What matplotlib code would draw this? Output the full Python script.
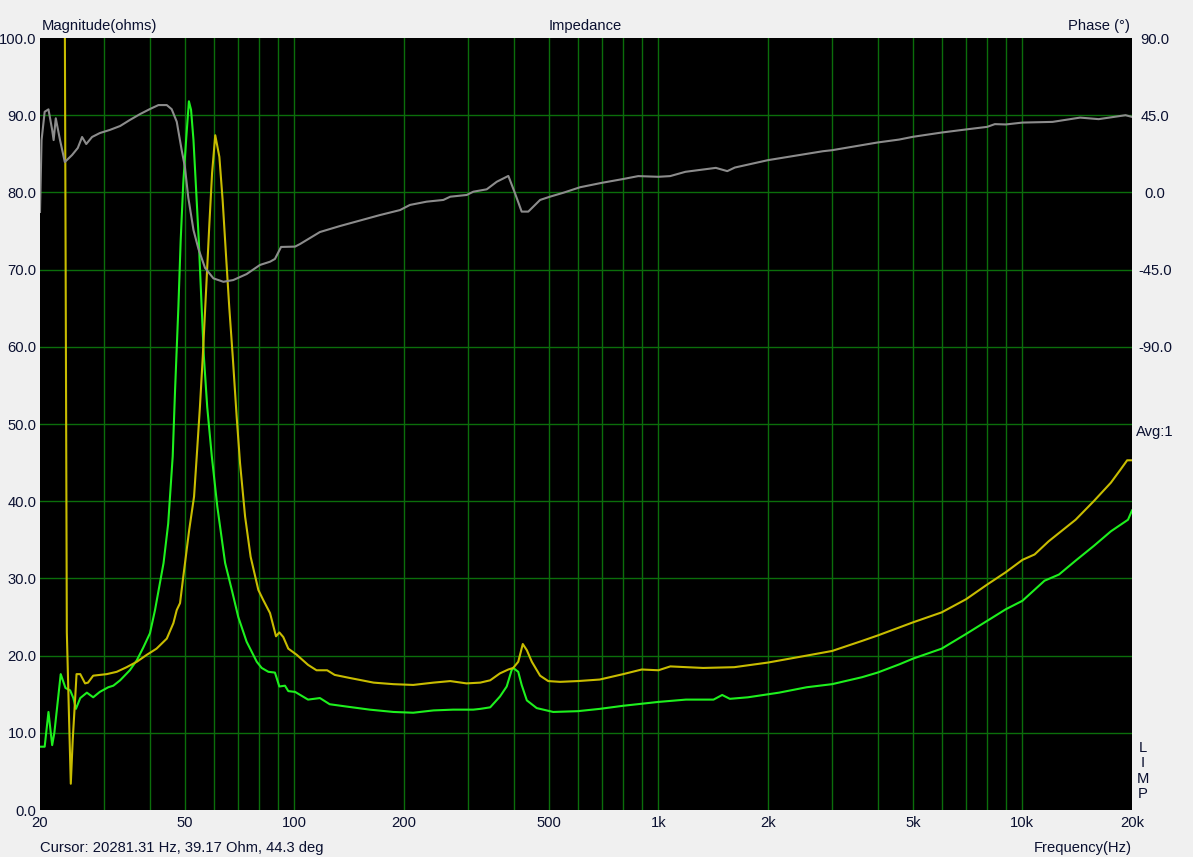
import matplotlib
matplotlib.use("Agg")
import matplotlib.pyplot as plt
from matplotlib.ticker import FixedLocator, NullFormatter

plt.rcParams['font.family'] = ['Liberation Sans', 'DejaVu Sans']

# --- datos ---
# curva verde (magnitud, ohm)
verde_f = [20.0, 20.6, 21.1, 21.6, 21.9, 22.8, 23.5, 24.2, 24.7, 25.1, 25.8, 26.9, 28.0, 29.2,
           30.8, 31.8, 33.2, 35.3, 36.9, 38.4, 40.1, 41.4, 43.7, 45.0, 46.3, 47.0, 48.0, 48.7,
           49.5, 50.4, 51.3, 52.0, 52.8, 53.7, 54.6, 55.6, 56.4, 57.6, 59.3, 61.4, 64.5, 67.3,
           70.1, 73.9, 78.8, 81.3, 84.8, 88.4, 90.9, 94.2, 96.2, 100.4, 109, 117.5, 125, 139,
           161, 187, 212, 241, 273, 310, 324, 345, 367, 383, 395, 399, 412, 421, 435, 463, 514,
           600, 690, 800, 1000, 1190, 1417, 1497, 1571, 1762, 2144, 2554, 3000, 3624, 4000,
           4608, 5000, 6000, 7000, 8000, 9000, 10000, 11500, 12600, 14000, 15700, 17500,
           19500, 20000]
verde_z = [8.2, 8.2, 12.7, 8.4, 10.0, 17.6, 15.8, 15.5, 14.5, 13.1, 14.5, 15.2, 14.6, 15.3,
           15.9, 16.1, 16.8, 18.1, 19.4, 21.0, 22.9, 25.9, 32.0, 37.1, 45.8, 54.4, 65.2, 73.8,
           81.2, 86.8, 91.8, 90.7, 86.8, 80.3, 73.8, 65.2, 58.7, 52.2, 45.8, 39.3, 32.0, 28.5,
           25.0, 21.8, 19.2, 18.4, 17.9, 17.8, 16.0, 16.1, 15.4, 15.3, 14.3, 14.5, 13.7, 13.4,
           13.0, 12.7, 12.6, 12.9, 13.0, 13.0, 13.1, 13.3, 14.7, 16.0, 18.1, 18.4, 17.9, 16.2,
           14.2, 13.2, 12.7, 12.8, 13.1, 13.5, 14.0, 14.3, 14.3, 14.9, 14.4, 14.6, 15.2, 15.9,
           16.3, 17.2, 17.8, 18.9, 19.6, 20.9, 22.8, 24.5, 26.0, 27.1, 29.7, 30.5, 32.3, 34.2,
           36.1, 37.6, 38.8]

# curva amarilla (magnitud, ohm)
amarilla_f = [23.3, 23.7, 24.0, 24.3, 24.6, 25.0, 25.2, 25.8, 26.6, 27.1, 28.0, 30.5, 32.5,
              34.6, 36.9, 39.3, 41.8, 44.6, 46.5, 47.5, 48.5, 49.5, 51.4, 53.0, 53.9, 55.0,
              56.0, 57.2, 58.4, 59.4, 60.6, 62.2, 63.5, 64.9, 66.2, 67.7, 69.4, 70.9, 73.2,
              75.8, 79.6, 82.1, 85.7, 89.0, 90.9, 93.2, 96.2, 101.5, 109, 115, 123, 129, 142,
              165, 187, 212, 241, 268, 297, 324, 345, 367, 387, 399, 412, 424, 435, 449, 473,
              498, 537, 600, 690, 800, 900, 1000, 1078, 1327, 1616, 2000, 2554, 3000, 3624,
              4000, 5000, 6000, 7000, 8000, 9000, 10000, 10800, 11800, 14000, 15700, 17500,
              18600, 19400, 20000]
amarilla_z = [130, 23.0, 13.0, 3.4, 9.1, 14.7, 17.6, 17.6, 16.4, 16.5, 17.4, 17.6, 17.9,
              18.5, 19.2, 20.1, 20.9, 22.2, 24.2, 25.9, 26.8, 30.2, 36.3, 40.6, 45.8, 52.2,
              58.7, 67.4, 76.0, 82.5, 87.4, 84.6, 79.0, 71.7, 65.2, 58.7, 50.9, 44.9, 38.0,
              32.8, 28.5, 27.2, 25.5, 22.5, 23.0, 22.4, 20.9, 20.1, 18.8, 18.1, 18.1, 17.5, 17.1,
              16.5, 16.3, 16.2, 16.5, 16.7, 16.4, 16.5, 16.8, 17.7, 18.2, 18.4, 19.2, 21.5, 20.7,
              19.2, 17.4, 16.7, 16.6, 16.7, 16.9, 17.6, 18.2, 18.1, 18.6, 18.4, 18.5, 19.1, 20.0,
              20.6, 21.9, 22.6, 24.3, 25.6, 27.3, 29.2, 30.8, 32.4, 33.1, 34.8, 37.6, 40.0,
              42.4, 44.1, 45.3, 45.3]

# curva gris (fase, grados)
fase_f = [20.0, 20.2, 20.6, 21.1, 21.6, 21.8, 22.1, 22.7, 23.4, 24.5, 25.4, 26.1, 26.8, 27.8,
          29.2, 31.1, 33.2, 35.3, 37.7, 40.1, 42.3, 44.6, 46.0, 47.5, 49.0, 50.0, 51.1, 52.8,
          54.5, 56.8, 59.9, 63.8, 67.9, 73.9, 80.4, 85.7, 88.4, 91.9, 100.4, 103.6, 117.5,
          133.4, 171.8, 195, 207.7, 230.8, 256.5, 268, 297.4, 310, 337.5, 359.6, 387, 403.6,
          421, 439, 473, 503.6, 548, 609, 700, 800, 880, 1000, 1077, 1186, 1438, 1546, 1622,
          2000, 2830, 3000, 4000, 4585, 5000, 6000, 7000, 8000, 8400, 9000, 10000, 12100,
          14400, 16200, 19200, 20000]
fase_g = [-11.4, 30.5, 47.0, 48.4, 36.4, 30.5, 43.2, 30.5, 17.7, 21.8, 25.9, 32.3, 28.2, 32.3,
          34.6, 36.4, 38.7, 42.2, 45.7, 48.6, 50.9, 50.9, 48.5, 41.2, 24.7, 15.0, -3.0, -21.9,
          -33.0, -44.0, -50.1, -52.1, -51.1, -47.6, -42.3, -40.4, -38.8, -31.8, -31.6, -30.1,
          -23.1, -19.6, -13.2, -10.3, -7.3, -5.4, -4.4, -2.5, -1.5, 0.4, 1.8, 6.2, 9.6, -0.5,
          -11.2, -11.2, -4.4, -2.5, -0.2, 3.0, 5.6, 7.8, 9.5, 9.1, 9.5, 12.0, 14.3, 12.4, 14.5,
          18.8, 24.0, 24.6, 29.1, 30.8, 32.4, 34.9, 36.7, 38.2, 39.8, 39.6, 40.7, 41.1, 43.6,
          42.7, 45.0, 44.0]

x_ticks = [20, 50, 100, 200, 500, 1000, 2000, 5000, 10000, 20000]
x_labels = ['20', '50', '100', '200', '500', '1k', '2k', '5k', '10k', '20k']
mag_ticks = [0, 10, 20, 30, 40, 50, 60, 70, 80, 90, 100]
fase_ticks = [90, 45, 0, -45, -90]

texto = '#0a1030'
rejilla = '#0b6e0b'
tam = 10.6

fig = plt.figure(figsize=(11.93, 8.57), dpi=100, facecolor='#f0f0f0')
ax = fig.add_axes([40 / 1193, 47 / 857, 1092 / 1193, 772 / 857])
ax.set_facecolor('black')
ax.set_xscale('log')
ax.set_xlim(20, 20000)
ax.set_ylim(0, 100)

# rejilla solo en el interior: 30, 40, ... 90, 100, 200 ... 10k
rejilla_x = [m * 10 ** d for d in range(1, 5) for m in range(1, 10) if 20 < m * 10 ** d < 20000]
ax.xaxis.set_major_locator(FixedLocator(x_ticks))
ax.set_xticklabels(x_labels)
ax.xaxis.remove_overlapping_locs = False
ax.xaxis.set_minor_locator(FixedLocator(rejilla_x))
ax.xaxis.set_minor_formatter(NullFormatter())
ax.set_yticks(mag_ticks)
ax.set_yticklabels(['%.1f' % v for v in mag_ticks])
ax.yaxis.remove_overlapping_locs = False
ax.yaxis.set_minor_locator(FixedLocator(mag_ticks[1:-1]))
ax.yaxis.set_minor_formatter(NullFormatter())
ax.grid(False, which='major')
ax.grid(True, which='minor', color=rejilla, lw=1.0)
ax.tick_params(which='both', length=0, colors=texto, labelsize=tam)
ax.tick_params(axis='y', pad=2.5)
ax.tick_params(axis='x', pad=4)
for s in ax.spines.values():
    s.set_visible(False)

ax2 = ax.twinx()
ax2.set_ylim(-360, 90)
ax2.set_yticks(fase_ticks)
ax2.set_yticklabels(['%.1f' % v for v in fase_ticks], ha='center')
ax2.tick_params(length=0, colors=texto, labelsize=tam, pad=16.5)
for s in ax2.spines.values():
    s.set_visible(False)

ax2.plot(fase_f, fase_g, color='#8c8c8c', lw=1.5)
ax.plot(verde_f, verde_z, color='#1ef01e', lw=1.5, zorder=3)
ax.plot(amarilla_f, amarilla_z, color='#c8bc00', lw=1.5, zorder=4)

# textos
fig.text(42 / 1193, 1 - 26 / 857, 'Magnitude(ohms)', ha='left', va='center', color=texto, fontsize=tam)
fig.text(585 / 1193, 1 - 26 / 857, 'Impedance', ha='center', va='center', color=texto, fontsize=tam)
fig.text(1130 / 1193, 1 - 26 / 857, 'Phase (°)', ha='right', va='center', color=texto, fontsize=tam)
fig.text(1155 / 1193, 1 - 432 / 857, 'Avg:1', ha='center', va='center', color=texto, fontsize=tam)
for i, letra in enumerate('LIMP'):
    fig.text(1143 / 1193, 1 - (748 + i * 15.3) / 857, letra, ha='center', va='center',
             color=texto, fontsize=tam)
fig.text(40 / 1193, 1 - 848 / 857, 'Cursor: 20281.31 Hz, 39.17 Ohm, 44.3 deg', ha='left',
         va='center', color=texto, fontsize=tam)
fig.text(1132 / 1193, 1 - 848 / 857, 'Frequency(Hz)', ha='right', va='center', color=texto,
         fontsize=tam)

fig.savefig('out.png', dpi=100, facecolor=fig.get_facecolor())
